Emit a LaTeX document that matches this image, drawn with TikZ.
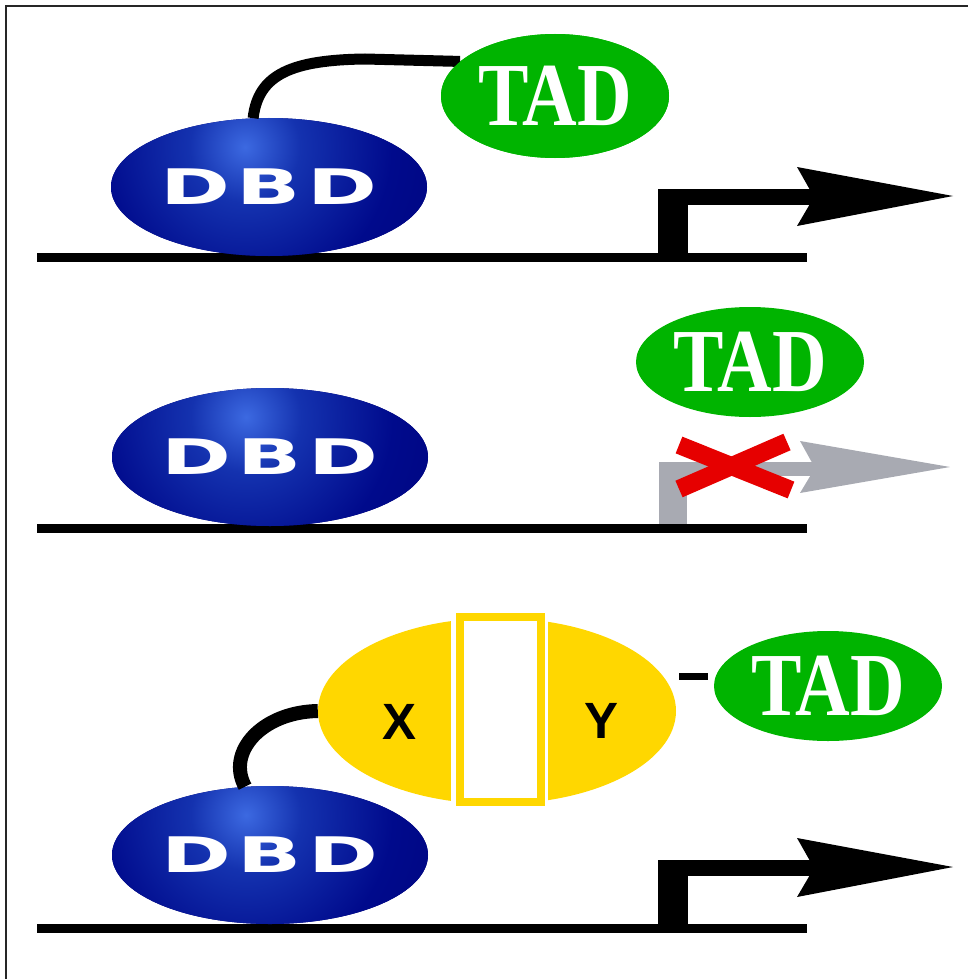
\documentclass[tikz,border=0pt]{standalone}
\usepackage{fontspec}
\newfontfamily\dbdfont{DejaVu Sans}
\newfontfamily\tadfont{Liberation Serif}
\newfontfamily\xyfont{Liberation Sans}
\usetikzlibrary{shapes.geometric}
\definecolor{navy}{RGB}{0,10,140}
\definecolor{navydark}{RGB}{0,0,115}
\definecolor{navymid}{RGB}{20,50,175}
\definecolor{navyhi}{RGB}{60,105,225}
\definecolor{tadgreen}{RGB}{0,180,0}
\definecolor{yel}{RGB}{255,215,0}
\definecolor{promgray}{RGB}{168,170,178}
\definecolor{xred}{RGB}{230,0,0}
\pgfdeclareradialshading{dbdshade}{\pgfpoint{0bp}{0bp}}{%
  color(0bp)=(navyhi); color(6bp)=(navymid); color(16bp)=(navy); color(34bp)=(navydark); color(50bp)=(navydark)}
\begin{document}
\begin{tikzpicture}[x=1pt,y=-1pt,
  dbd/.style={ellipse, minimum width=316pt, minimum height=138pt, inner sep=0pt,
    fill=navydark, text=white,
    path picture={\shade[shading=dbdshade]
      ([xshift=-24pt,yshift=40pt]path picture bounding box.center) circle (230pt);},
    font=\dbdfont\bfseries\fontsize{49}{49}\selectfont},
  tad/.style={ellipse, minimum width=228pt, minimum height=110pt, inner sep=0pt,
    fill=tadgreen, text=white, font=\tadfont\bfseries\fontsize{90}{90}\selectfont},
  xylabel/.style={inner sep=0pt, text=black, font=\xyfont\bfseries\fontsize{51}{51}\selectfont},
  linker/.style={draw=black, line width=11pt},
  dna/.style={draw=black, line width=9pt},
]
\useasboundingbox (0,0) rectangle (968,979);
% frame
\draw[line width=2pt, black!85] (6,979) -- (6,6) -- (968,6);

% ---------------- panel 1 ----------------
\draw[dna] (37,257.5) -- (807,257.5);
\fill[black] (658,189) rectangle (688,258);
\fill[black] (658,189) rectangle (816,205);
\fill[black] (797,167) -- (953,196) -- (797,226) -- (814,197) -- cycle;
\node[dbd] (dbd1) at (269,187) {\scalebox{1.72}[1]{D\kern4pt B\kern4pt D}};
\node[tad, minimum height=124pt] (tad1) at (555,96) {};
\draw[linker] (dbd1.103) .. controls +(5,-44) and (292,60) .. (365,59) -- (tad1.160);
\draw[black, line width=6pt] (dbd1.103) ++(0,-2) -- ++(2,-14);
\node[tad, minimum height=124pt] at (tad1.center) {\scalebox{0.84}[1]{TAD}};

% ---------------- panel 2 ----------------
\fill[promgray] (659,462) rectangle (687,526);
\fill[promgray] (659,462) rectangle (816,476);
\fill[promgray] (800,441) -- (950,467) -- (800,493) -- (815,468) -- cycle;
\draw[dna] (37,528) -- (807,528);
\draw[xred, line width=18pt] (679,445) -- (791,490);
\draw[xred, line width=18pt] (787,442) -- (679,489);
\node[dbd] (dbd2) at (270,457) {\scalebox{1.72}[1]{D\kern4pt B\kern4pt D}};
\node[tad] (tad2) at (750,362) {\scalebox{0.84}[1]{TAD}};

% ---------------- panel 3 ----------------
\draw[dna] (37,928) -- (807,928);
\fill[black] (658,860) rectangle (688,928);
\fill[black] (658,860) rectangle (816,876);
\fill[black] (797,838) -- (953,867) -- (797,897) -- (814,868) -- cycle;
\node[ellipse, fill=yel, minimum width=358pt, minimum height=186pt, inner sep=0pt] (xy) at (497,711) {};
\fill[white] (451,606) rectangle (548,812);
\node[draw=yel, line width=8pt, fill=white, minimum width=81pt, minimum height=185pt, inner sep=0pt] (mid) at (500.5,709.5) {};
\node[xylabel] (xl) at (400,722) {X};
\node[xylabel] (yl) at (601,721) {Y};
\node[dbd] (dbd3) at (270,855) {\scalebox{1.72}[1]{D\kern4pt B\kern4pt D}};
\draw[linker, line width=14pt] (dbd3.110) .. controls (226,752) and (262,712) .. (xy.west);
\node[tad] (tad3) at (828,686) {\scalebox{0.84}[1]{TAD}};
\draw[line width=7pt] ([shift={(3,-35)}]xy.east) -- ([shift={(-6,-10)}]tad3.west);
\end{tikzpicture}
\end{document}
